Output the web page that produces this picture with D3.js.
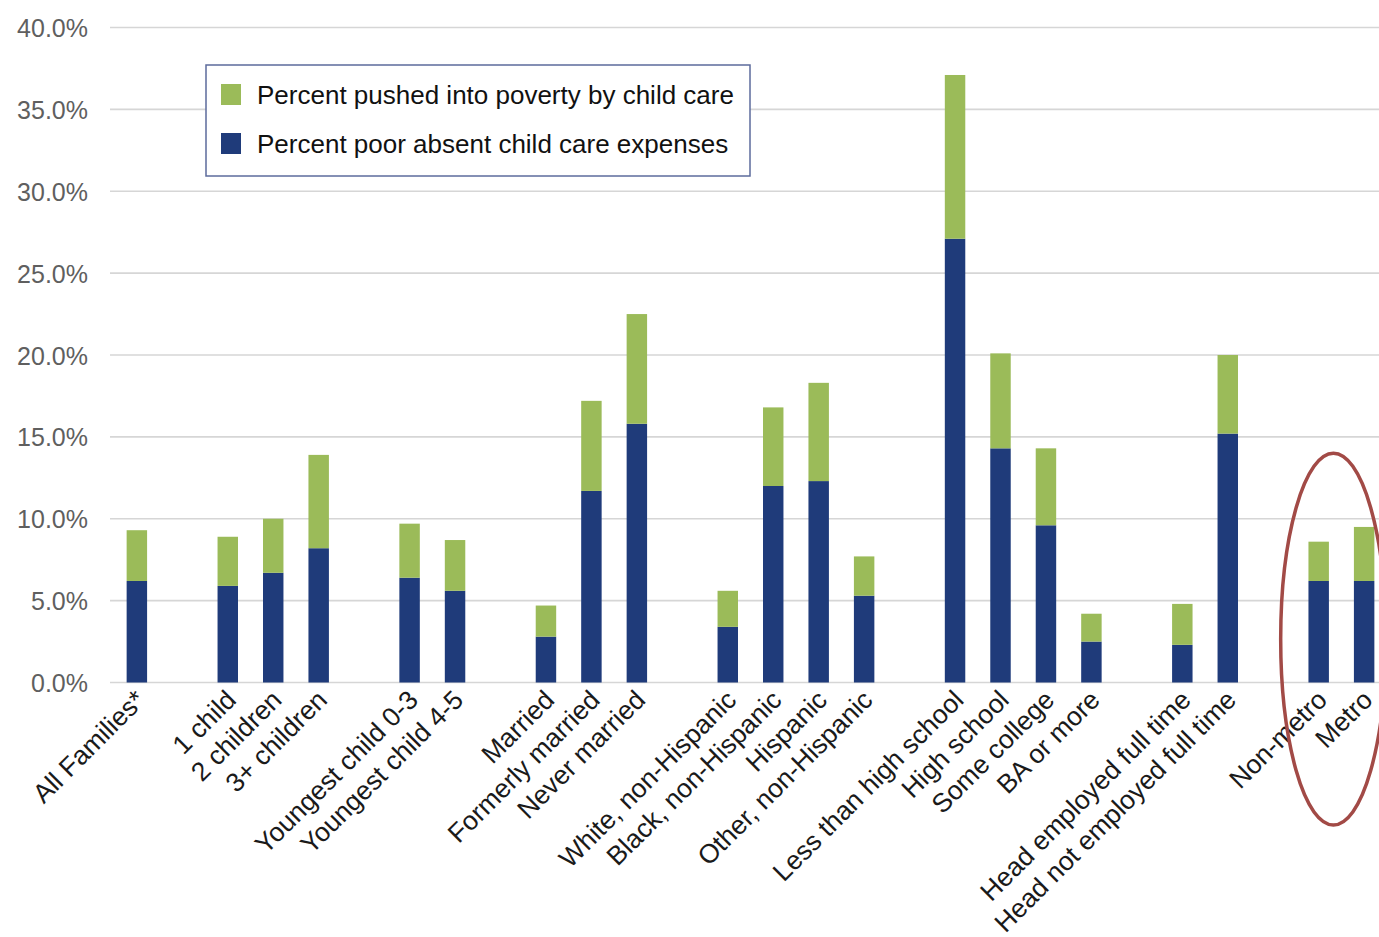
<!DOCTYPE html>
<html>
<head>
<meta charset="utf-8">
<script src="https://cdn.jsdelivr.net/npm/d3@7"></script>
<style>
  html, body { margin: 0; padding: 0; background: #fff; }
  svg { display: block; }
</style>
</head>
<body>
<svg id="chart" width="1379" height="937"></svg>
<script>
// Family groups, in display order
const categories = [
  "All Families*",
  "1 child", "2 children", "3+ children",
  "Youngest child 0-3", "Youngest child 4-5",
  "Married", "Formerly married", "Never married",
  "White, non-Hispanic", "Black, non-Hispanic", "Hispanic", "Other, non-Hispanic",
  "Less than high school", "High school", "Some college", "BA or more",
  "Head employed full time", "Head not employed full time",
  "Non-metro", "Metro"
];
// number of categories in each cluster (a blank slot separates clusters)
const groupSizes = [1, 3, 2, 3, 4, 4, 2, 2];

// Percent poor absent child care expenses
const poorAbsent = [
  6.2,
  5.9, 6.7, 8.2,
  6.4, 5.6,
  2.8, 11.7, 15.8,
  3.4, 12.0, 12.3, 5.3,
  27.1, 14.3, 9.6, 2.5,
  2.3, 15.2,
  6.2, 6.2
];
// Percent pushed into poverty by child care (added on top)
const pushed = [
  3.1,
  3.0, 3.3, 5.7,
  3.3, 3.1,
  1.9, 5.5, 6.7,
  2.2, 4.8, 6.0, 2.4,
  10.0, 5.8, 4.7, 1.7,
  2.5, 4.8,
  2.4, 3.3
];

const yTicks = [0, 5, 10, 15, 20, 25, 30, 35, 40];
const seriesNames = ["Percent pushed into poverty by child care", "Percent poor absent child care expenses"];
const colors = { pushed: "#9bbb59", poor: "#1f3b7a" };

const W = 1379, H = 937;
const svg = d3.select("#chart");

// Build slot domain with blank spacers between clusters
const slots = [];
let k = 0;
groupSizes.forEach((n, gi) => {
  for (let i = 0; i < n; i++) slots.push(categories[k++]);
  if (gi < groupSizes.length - 1) slots.push("__gap" + gi);
});

const x = d3.scaleBand()
  .domain(slots)
  .range([113, 1388])
  .paddingInner(0.55)
  .paddingOuter(0.3);

const y = d3.scaleLinear().domain([0, 40]).range([682.5, 27.5]);

const fontFamily = "'Liberation Sans', Arial, Helvetica, sans-serif";

// Gridlines
svg.append("g")
  .selectAll("line")
  .data(yTicks)
  .join("line")
  .attr("x1", 110)
  .attr("x2", W)
  .attr("y1", d => y(d))
  .attr("y2", d => y(d))
  .attr("stroke", "#d6d6d6")
  .attr("stroke-width", 1.6);

// Y axis labels
const yAxis = d3.axisLeft(y)
  .tickValues(yTicks)
  .tickFormat(d => d3.format(".1f")(d) + "%")
  .tickSize(0)
  .tickPadding(0);

const gy = svg.append("g")
  .attr("transform", "translate(88,0)")
  .call(yAxis);
gy.select(".domain").remove();
gy.selectAll("text")
  .attr("font-family", fontFamily)
  .attr("font-size", 25)
  .attr("fill", "#5f5f5f")
  .attr("dy", "0.36em");

// Stacked bars
const rows = categories.map((c, i) => ({ cat: c, poor: poorAbsent[i], pushed: pushed[i] }));
const stack = d3.stack().keys(["poor", "pushed"])(rows);

svg.append("g")
  .selectAll("g")
  .data(stack)
  .join("g")
  .attr("fill", d => colors[d.key])
  .selectAll("rect")
  .data(d => d)
  .join("rect")
  .attr("x", d => x(d.data.cat))
  .attr("width", x.bandwidth())
  .attr("y", d => y(d[1]))
  .attr("height", d => y(d[0]) - y(d[1]));

// Category labels, rotated
const gx = svg.append("g");
gx.selectAll("text")
  .data(categories)
  .join("text")
  .attr("transform", d => `translate(${x(d) + x.bandwidth() / 2 + 10},${y(0) + 19}) rotate(-45)`)
  .attr("text-anchor", "end")
  .attr("font-family", fontFamily)
  .attr("font-size", 26.5)
  .attr("fill", "#1a1a1a")
  .text(d => d);

// Legend
const legend = svg.append("g").attr("transform", "translate(206,65)");
legend.append("rect")
  .attr("width", 544)
  .attr("height", 111)
  .attr("fill", "#fff")
  .attr("stroke", "#5c6b9c")
  .attr("stroke-width", 1.5);
const legendItems = [
  { name: seriesNames[0], color: colors.pushed },
  { name: seriesNames[1], color: colors.poor }
];
const li = legend.selectAll("g.item")
  .data(legendItems)
  .join("g")
  .attr("class", "item")
  .attr("transform", (d, i) => `translate(15,${19 + i * 49})`);
li.append("rect").attr("width", 20).attr("height", 21).attr("fill", d => d.color);
li.append("text")
  .attr("x", 36)
  .attr("y", 20)
  .attr("font-family", fontFamily)
  .attr("font-size", 26)
  .attr("fill", "#111")
  .text(d => d.name);

// Highlight ring around the metro comparison
const xNon = x("Non-metro") + x.bandwidth() / 2;
const xMet = x("Metro") + x.bandwidth() / 2;
svg.append("ellipse")
  .attr("cx", (xNon + xMet) / 2 - 8)
  .attr("cy", (y(14.0) + y(-8.7)) / 2)
  .attr("rx", (xMet - xNon) / 2 + 30)
  .attr("ry", (y(-8.7) - y(14.0)) / 2)
  .attr("fill", "none")
  .attr("stroke", "#a24a46")
  .attr("stroke-width", 3.5);
</script>
</body>
</html>
